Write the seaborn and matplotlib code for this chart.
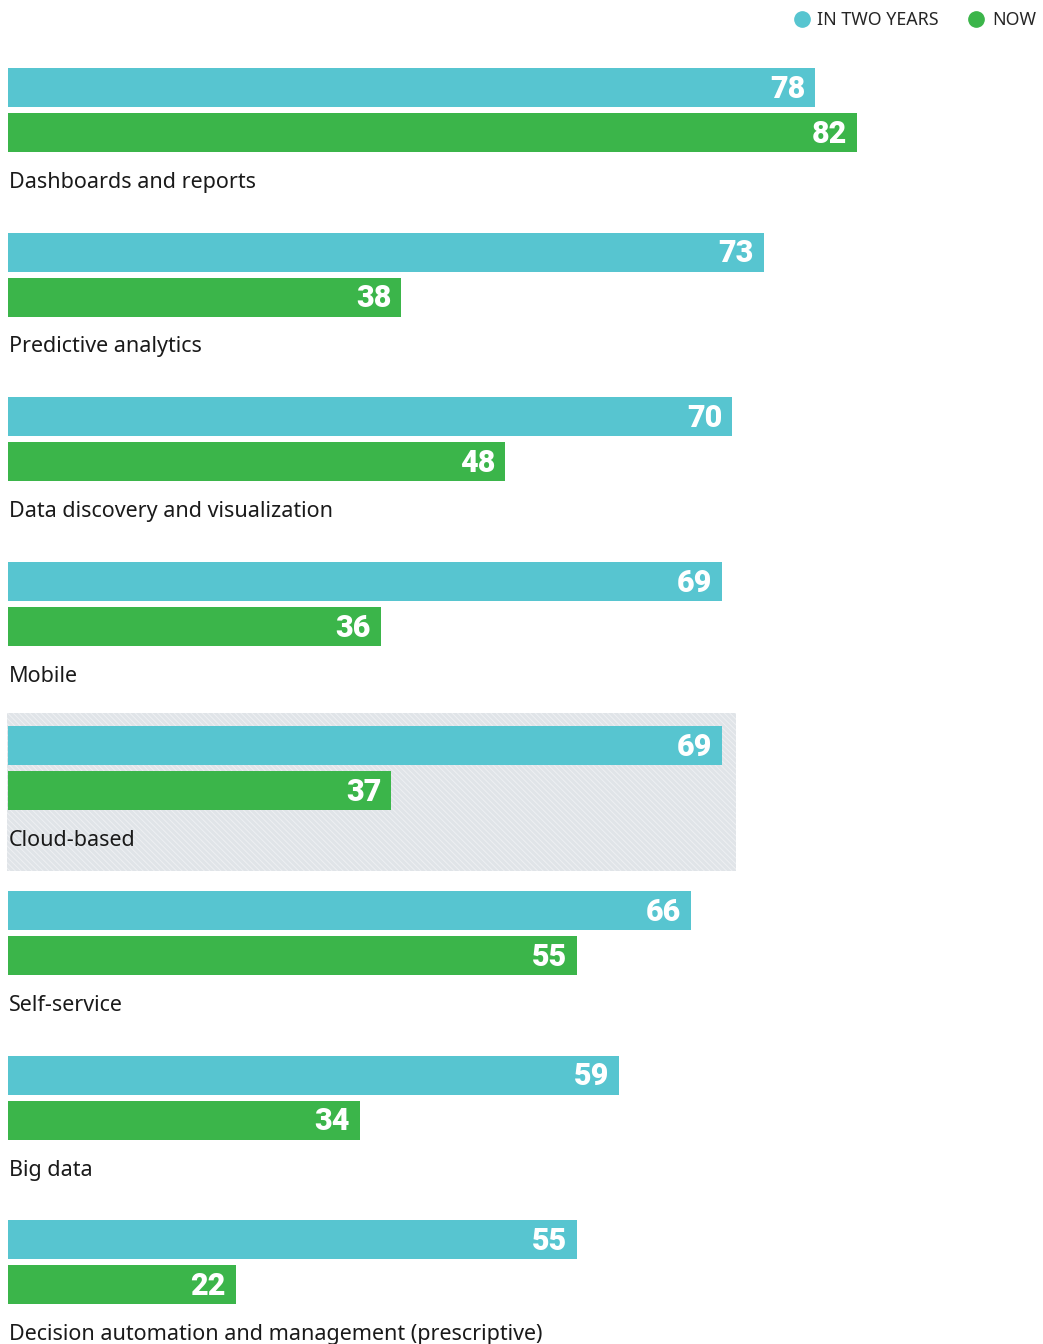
import matplotlib
matplotlib.use("Agg")
import matplotlib.pyplot as plt
from matplotlib.lines import Line2D
from matplotlib.patches import Rectangle
import pandas as pd
import seaborn as sns

# data
categories = ["Dashboards and reports", "Predictive analytics",
              "Data discovery and visualization", "Mobile", "Cloud-based",
              "Self-service", "Big data",
              "Decision automation and management (prescriptive)"]
in_two_years = [78, 73, 70, 69, 69, 66, 59, 55]
now = [82, 38, 48, 36, 37, 55, 34, 22]
series = ["IN TWO YEARS", "NOW"]
highlight = "Cloud-based"

cyan = "#57c5d0"
green = "#3bb54a"

df = pd.DataFrame({
    "category": categories * 2,
    "series": [series[0]] * len(categories) + [series[1]] * len(categories),
    "value": in_two_years + now,
})

sns.set_style("white")
plt.rcParams["font.family"] = ["Noto Sans", "DejaVu Sans"]
plt.rcParams["hatch.linewidth"] = 0.7

fig = plt.figure(figsize=(10.43, 13.44), dpi=100)
ax = fig.add_axes([0, 0, 1, 1])

sns.barplot(data=df, y="category", x="value", hue="series", orient="h",
            palette=[cyan, green], width=0.547, gap=0.133, legend=False,
            saturation=1, linewidth=0, ax=ax)

ax.set_xlim(-0.77, 100)
ax.set_ylim(7.497, -0.668)
ax.axis("off")

# highlighted row background with faint diagonal hatch
hi = categories.index(highlight)
bg = Rectangle((-0.1, hi - 0.337), 70.4, 0.96, facecolor="#e0e4e8",
               edgecolor="#eef0f3", linewidth=0, hatch="\\" * 6, zorder=0)
ax.add_patch(bg)

# value labels inside bars
for cont in ax.containers:
    for bar in cont:
        w = bar.get_width()
        y = bar.get_y() + bar.get_height() / 2
        ax.annotate(f"{w:.0f}", (w, y), xytext=(-7, -1),
                    textcoords="offset points", ha="right", va="center",
                    color="white", fontsize=22, fontweight="heavy",
                    family=["Roboto", "DejaVu Sans"])

# category labels under each pair
for i, cat in enumerate(categories):
    ax.text(0.1, i + 0.44, cat, ha="left", va="center", fontsize=15.5,
            color="#1a1a1a")

handles = [Line2D([], [], marker="o", linestyle="none", markersize=11,
                  color=c, label=s) for c, s in zip([cyan, green], series)]
ax.legend(handles=handles, loc="upper right", bbox_to_anchor=(1.0, 0.9973),
          ncol=2, frameon=False, fontsize=12.8, handlelength=1.2,
          handletextpad=0.27, columnspacing=1.52, borderaxespad=0.0)

fig.savefig("out.png", dpi=100)
